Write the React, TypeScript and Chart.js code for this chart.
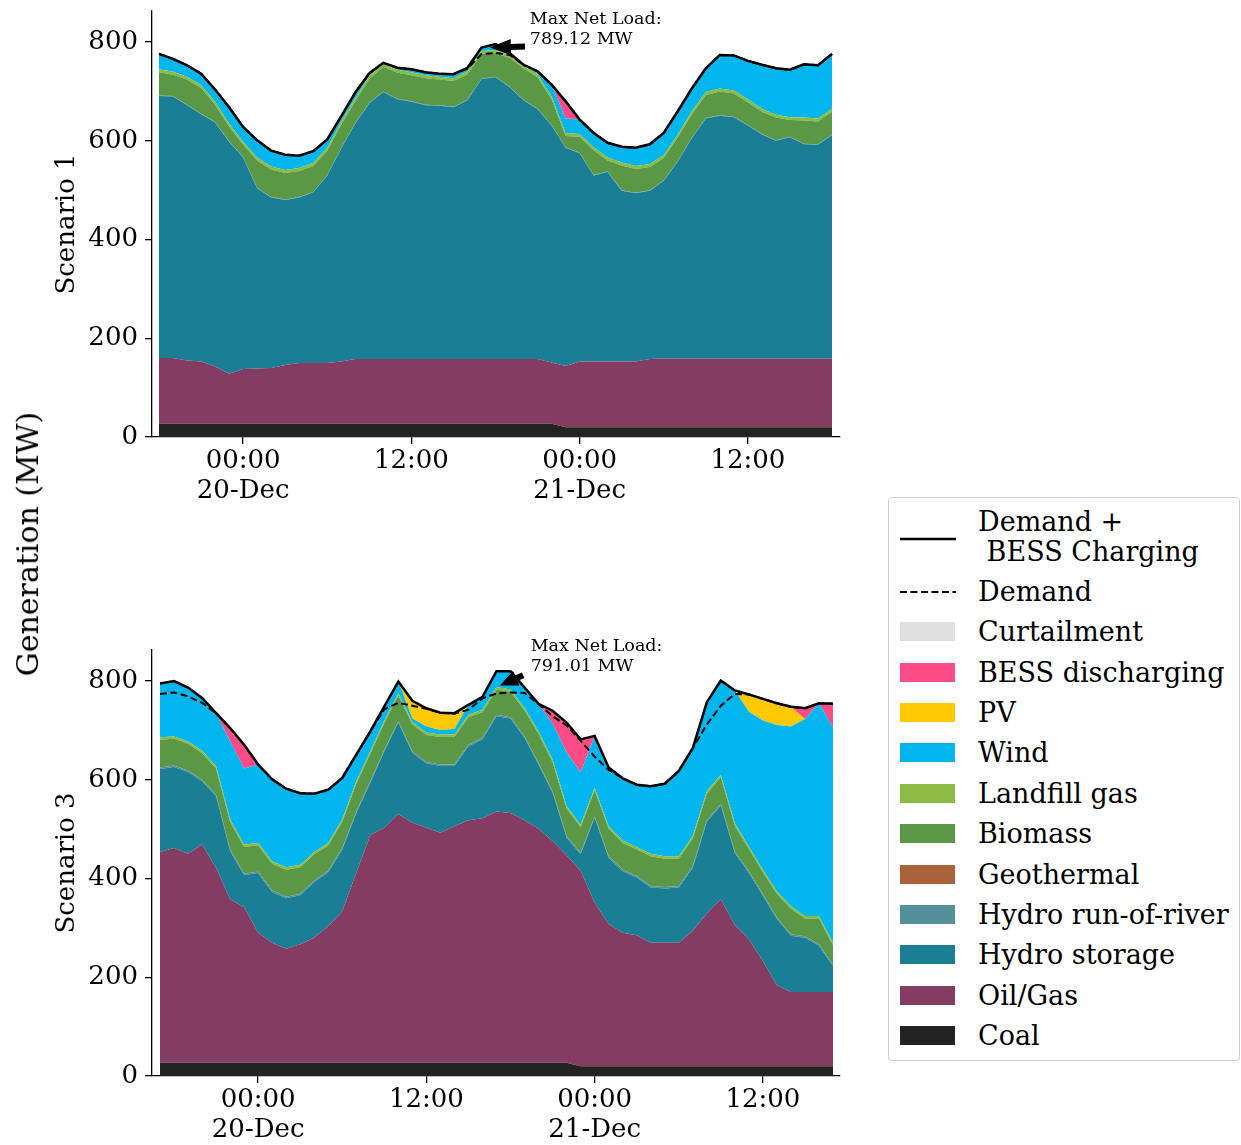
import React, { useEffect, useRef } from 'react';
import { Chart, registerables } from 'chart.js';

Chart.register(...registerables);

const FONT = "'DejaVu Serif'";

// ---------- categories / ticks ----------
// hours relative to 00:00 on 20-Dec
const hoursS1 = Array.from({ length: 49 }, (_, i) => i - 6); // 18:00 19-Dec .. 18:00 21-Dec
const hoursS3 = Array.from({ length: 49 }, (_, i) => i - 7); // 17:00 19-Dec .. 17:00 21-Dec
const tickHours = [0, 12, 24, 36];
const tickLabels: (string | string[])[] = [['00:00', '20-Dec'], '12:00', ['00:00', '21-Dec'], '12:00'];
const yTicks = [0, 200, 400, 600, 800];

// ---------- series (stack order, bottom to top) ----------
const seriesNames = ['Coal', 'Oil/Gas', 'Hydro storage', 'Hydro run-of-river', 'Geothermal', 'Biomass', 'Landfill gas', 'Wind', 'PV', 'BESS discharging', 'Curtailment'];
const seriesColors = ['#232323', '#843C62', '#1A7F94', '#52909A', '#A8633A', '#5B9845', '#8BBB43', '#00B6ED', '#FFC800', '#FF4C87', '#E0E0E0'];

// ---------- Scenario 1 ----------
const coalS1 = [27, 27, 27, 27, 27, 27, 27, 27, 27, 27, 27, 27, 27, 27, 27, 27, 27, 27, 27, 27, 27, 27, 27, 27, 27, 27, 27, 27, 27, 20, 20, 20, 20, 20, 20, 20, 20, 20, 20, 20, 20, 20, 20, 20, 20, 20, 20, 20, 20];
const oilS1 = [133, 133, 128, 126, 116, 101, 111, 112, 113, 119, 123, 123, 123, 126, 131, 131, 131, 131, 131, 131, 131, 131, 131, 131, 131, 131, 131, 131, 124, 124, 133, 133, 133, 133, 133, 138, 139, 139, 139, 139, 139, 139, 139, 139, 139, 139, 139, 139, 139];
const hydroStoS1 = [531, 530, 517, 501, 494, 470, 428, 365, 345, 334, 335, 346, 380, 432, 477, 518, 541, 526, 521, 514, 513, 510, 524, 567, 571, 551, 524, 506, 480, 442, 422, 377, 384, 346, 341, 341, 360, 399, 446, 486, 492, 489, 472, 454, 441, 448, 434, 433, 453];
const rorS1 = [1, 1, 1, 1, 1, 1, 1, 1, 1, 1, 1, 1, 1, 1, 1, 1, 1, 1, 1, 1, 1, 1, 1, 1, 1, 1, 1, 1, 1, 1, 1, 1, 1, 1, 1, 1, 1, 1, 1, 1, 1, 1, 1, 1, 1, 1, 1, 1, 1];
const geoS1 = [0, 0, 0, 0, 0, 0, 0, 0, 0, 0, 0, 0, 0, 0, 0, 0, 0, 0, 0, 0, 0, 0, 0, 0, 0, 0, 0, 0, 0, 0, 0, 0, 0, 0, 0, 0, 0, 0, 0, 0, 0, 0, 0, 0, 0, 0, 0, 0, 0];
const bioS1 = [47, 43, 51, 52, 35, 30, 25, 55, 56, 54, 53, 52, 49, 47, 44, 49, 50, 53, 53, 54, 52, 52, 52, 50, 48, 58, 64, 64, 52, 23, 32, 50, 22, 50, 48, 47, 45, 48, 48, 47, 48, 47, 46, 45, 46, 34, 47, 46, 46];
const landfillS1 = [6, 6, 6, 6, 6, 6, 6, 6, 6, 6, 6, 6, 6, 6, 6, 6, 6, 6, 6, 6, 6, 6, 6, 6, 6, 6, 6, 6, 6, 6, 6, 6, 6, 6, 6, 6, 6, 6, 6, 6, 6, 6, 6, 6, 6, 6, 6, 6, 6];
const windS1 = [31, 26, 23, 23, 25, 33, 30, 35, 32, 31, 25, 24, 17, 11, 12, 5, 2, 4, 6, 6, 6, 8, 7, 7, 12, 4, 1, 6, 24, 29, 29, 29, 30, 32, 37, 40, 45, 47, 46, 48, 68, 71, 78, 89, 94, 96, 108, 108, 111];
const pvS1 = [0, 0, 0, 0, 0, 0, 0, 0, 0, 0, 0, 0, 0, 0, 0, 0, 0, 0, 0, 0, 0, 0, 0, 0, 0, 0, 0, 0, 0, 0, 0, 0, 0, 0, 0, 0, 0, 0, 0, 0, 0, 0, 0, 0, 0, 0, 0, 0, 0];
const bessS1 = [0, 0, 0, 0, 0, 0, 0, 0, 0, 0, 0, 0, 0, 0, 0, 0, 0, 0, 0, 0, 0, 0, 0, 0, 0, 0, 0, 0, 0, 35, 0, 0, 0, 0, 0, 0, 0, 0, 0, 0, 0, 0, 0, 0, 0, 0, 0, 0, 0];
const curtS1 = [0, 0, 0, 0, 0, 0, 0, 0, 0, 0, 0, 0, 0, 0, 0, 0, 0, 0, 0, 0, 0, 0, 0, 0, 0, 0, 0, 0, 0, 0, 0, 0, 0, 0, 0, 0, 0, 0, 0, 0, 0, 0, 0, 0, 0, 0, 0, 0, 0];
const totalS1 = [776, 766, 753, 736, 704, 668, 628, 601, 580, 572, 570, 579, 603, 650, 698, 737, 758, 748, 745, 739, 736, 735, 748, 789, 796, 778, 754, 741, 714, 680, 643, 616, 596, 588, 586, 593, 616, 660, 706, 747, 774, 773, 762, 754, 747, 744, 755, 753, 776];
const demandS1 = [776, 766, 753, 736, 704, 668, 628, 601, 580, 572, 570, 579, 603, 650, 698, 737, 758, 748, 745, 739, 736, 735, 746, 776, 778, 774, 754, 741, 714, 680, 643, 616, 596, 588, 586, 593, 616, 660, 706, 747, 774, 773, 762, 754, 747, 744, 755, 753, 776];

// ---------- Scenario 3 ----------
const coalS3 = [27, 27, 27, 27, 27, 27, 27, 27, 27, 27, 27, 27, 27, 27, 27, 27, 27, 27, 27, 27, 27, 27, 27, 27, 27, 27, 27, 27, 27, 27, 20, 20, 20, 20, 20, 20, 20, 20, 20, 20, 20, 20, 20, 20, 20, 20, 20, 20, 20];
const oilS3 = [427, 435, 423, 442, 395, 331, 315, 263, 243, 231, 240, 253, 277, 307, 385, 461, 476, 504, 486, 476, 466, 479, 491, 495, 509, 506, 491, 474, 449, 420, 396, 331, 288, 270, 265, 250, 250, 250, 274, 309, 338, 286, 257, 213, 164, 150, 150, 150, 150];
const hydroStoS3 = [168, 164, 166, 128, 145, 98, 65, 121, 103, 102, 99, 113, 109, 125, 121, 106, 155, 185, 142, 130, 135, 122, 150, 160, 193, 191, 167, 130, 98, 36, 33, 172, 134, 125, 117, 112, 110, 112, 128, 186, 190, 146, 135, 132, 134, 114, 110, 94, 53];
const rorS3 = [3, 3, 3, 3, 3, 3, 3, 3, 3, 3, 3, 3, 3, 3, 3, 3, 3, 3, 3, 3, 3, 3, 3, 3, 3, 3, 3, 3, 3, 3, 3, 3, 3, 3, 3, 3, 3, 3, 3, 3, 3, 3, 3, 3, 3, 3, 3, 3, 3];
const geoS3 = [0, 0, 0, 0, 0, 0, 0, 0, 0, 0, 0, 0, 0, 0, 0, 0, 0, 0, 0, 0, 0, 0, 0, 0, 0, 0, 0, 0, 0, 0, 0, 0, 0, 0, 0, 0, 0, 0, 0, 0, 0, 0, 0, 0, 0, 0, 0, 0, 0];
const bioS3 = [56, 54, 54, 54, 53, 56, 54, 53, 54, 55, 54, 53, 51, 53, 56, 56, 54, 52, 54, 55, 56, 56, 56, 52, 51, 51, 53, 59, 59, 56, 52, 53, 56, 54, 54, 60, 57, 55, 56, 54, 54, 52, 45, 45, 48, 52, 36, 52, 39];
const landfillS3 = [5, 5, 5, 5, 5, 5, 5, 5, 5, 5, 5, 5, 5, 5, 5, 5, 5, 5, 5, 5, 5, 5, 5, 5, 5, 5, 5, 5, 5, 5, 5, 5, 5, 5, 5, 5, 5, 5, 5, 5, 5, 5, 5, 5, 5, 5, 5, 5, 5];
const windS3 = [109, 112, 109, 107, 107, 158, 154, 159, 166, 159, 145, 118, 108, 84, 54, 40, 29, 23, 7, 12, 9, 11, 20, 26, 32, 37, 41, 56, 73, 109, 106, 105, 119, 126, 126, 137, 147, 173, 178, 180, 191, 269, 273, 302, 337, 364, 399, 431, 436];
const pvS3 = [0, 0, 0, 0, 0, 0, 0, 0, 0, 0, 0, 0, 0, 0, 0, 0, 0, 0, 36, 37, 35, 32, 0, 0, 0, 0, 0, 0, 0, 0, 0, 0, 0, 0, 0, 0, 0, 0, 0, 0, 0, 0, 35, 44, 44, 40, 0, 0, 0];
const bessS3 = [0, 0, 0, 0, 0, 27, 48, 0, 0, 0, 0, 0, 0, 0, 0, 0, 0, 0, 0, 0, 0, 0, 0, 0, 0, 0, 0, 0, 26, 60, 67, 0, 0, 0, 0, 0, 0, 0, 0, 0, 0, 0, 0, 0, 0, 0, 22, 0, 48];
const curtS3 = [0, 0, 0, 0, 0, 0, 0, 0, 0, 0, 0, 0, 0, 0, 0, 0, 0, 0, 0, 0, 0, 0, 0, 0, 0, 0, 0, 0, 0, 0, 0, 0, 0, 0, 0, 0, 0, 0, 0, 0, 0, 0, 0, 0, 0, 0, 0, 0, 0];
const totalS3 = [795, 800, 787, 766, 735, 705, 671, 631, 601, 582, 573, 572, 580, 604, 651, 698, 749, 799, 760, 745, 736, 735, 752, 768, 820, 820, 787, 754, 740, 716, 682, 689, 625, 603, 590, 587, 592, 618, 664, 757, 801, 781, 773, 764, 755, 748, 745, 755, 754];
const demandS3 = [774, 777, 769, 756, 735, 705, 671, 631, 601, 582, 573, 572, 580, 604, 651, 698, 743, 756, 750, 744, 736, 734, 742, 765, 775, 777, 776, 753, 729, 710, 679, 647, 620, 603, 590, 587, 592, 618, 664, 712, 750, 774, 773, 764, 755, 748, 745, 755, 754];

// ---------- annotations ----------
const maxNetLoadS1 = 789.12;
const maxNetLoadS3 = 791.01;

type Scenario = {
  title: string;
  hours: number[];
  values: number[][];
  total: number[];
  demand: number[];
  xMin: number;
  xMax: number;
  padTop: number;
  xAxisHeight: number;
  canvasTop: number;
  canvasHeight: number;
  note: { tip: [number, number]; tail: [number, number]; text: [number, number]; lines: string[] };
};

const scenarios: Scenario[] = [
  {
    title: 'Scenario 1',
    hours: hoursS1,
    values: [coalS1, oilS1, hydroStoS1, rorS1, geoS1, bioS1, landfillS1, windS1, pvS1, bessS1, curtS1],
    total: totalS1,
    demand: demandS1,
    xMin: -6.5,
    xMax: 42.57,
    padTop: 11,
    xAxisHeight: 83,
    canvasTop: 0,
    canvasHeight: 520,
    note: { tip: [17.6, maxNetLoadS1], tail: [20.1, 791], text: [20.45, 796.6], lines: ['Max Net Load:', maxNetLoadS1.toFixed(2) + ' MW'] },
  },
  {
    title: 'Scenario 3',
    hours: hoursS3,
    values: [coalS3, oilS3, hydroStoS3, rorS3, geoS3, bioS3, landfillS3, windS3, pvS3, bessS3, curtS3],
    total: totalS3,
    demand: demandS3,
    xMin: -7.57,
    xMax: 41.5,
    padTop: 30,
    xAxisHeight: 69,
    canvasTop: 620,
    canvasHeight: 525,
    note: { tip: [17.25, maxNetLoadS3], tail: [18.9, 812], text: [19.44, 820.2], lines: ['Max Net Load:', maxNetLoadS3.toFixed(2) + ' MW'] },
  },
];

const annotationPlugin = {
  id: 'maxNetLoad',
  afterDraw(chart: any, _args: any, opts: any) {
    if (!opts || !opts.lines) return;
    const xs = chart.scales.x;
    const ys = chart.scales.y;
    const ctx = chart.ctx;
    const tipX = xs.getPixelForValue(opts.tip[0]);
    const tipY = ys.getPixelForValue(opts.tip[1]);
    const tailX = xs.getPixelForValue(opts.tail[0]);
    const tailY = ys.getPixelForValue(opts.tail[1]);
    const dx = tipX - tailX;
    const dy = tipY - tailY;
    const len = Math.hypot(dx, dy);
    const ux = dx / len;
    const uy = dy / len;
    const px = -uy;
    const py = ux;
    const headLen = Math.min(21, len * 0.7);
    const headHalf = 8;
    const shaftHalf = 3;
    const bx = tipX - ux * headLen;
    const by = tipY - uy * headLen;
    ctx.save();
    ctx.beginPath();
    ctx.moveTo(tailX + px * shaftHalf, tailY + py * shaftHalf);
    ctx.lineTo(bx + px * shaftHalf, by + py * shaftHalf);
    ctx.lineTo(bx + px * headHalf, by + py * headHalf);
    ctx.lineTo(tipX, tipY);
    ctx.lineTo(bx - px * headHalf, by - py * headHalf);
    ctx.lineTo(bx - px * shaftHalf, by - py * shaftHalf);
    ctx.lineTo(tailX - px * shaftHalf, tailY - py * shaftHalf);
    ctx.closePath();
    ctx.fillStyle = '#000';
    ctx.fill();
    ctx.font = `17.5px ${FONT}`;
    ctx.textAlign = 'left';
    ctx.textBaseline = 'alphabetic';
    const tx = xs.getPixelForValue(opts.text[0]);
    const ty = ys.getPixelForValue(opts.text[1]);
    const n = opts.lines.length;
    opts.lines.forEach((l: string, i: number) => ctx.fillText(l, tx, ty - (n - 1 - i) * 20));
    ctx.restore();
  },
};

function makeConfig(sc: Scenario): any {
  const lineDatasets = [
    {
      label: 'Demand + BESS Charging',
      data: sc.hours.map((h, i) => ({ x: h, y: sc.total[i] })),
      borderColor: '#000',
      borderWidth: 2.5,
      pointRadius: 0,
      fill: false,
      tension: 0,
      yAxisID: 'yl',
    },
    {
      label: 'Demand',
      data: sc.hours.map((h, i) => ({ x: h, y: sc.demand[i] })),
      borderColor: '#000',
      borderWidth: 2,
      borderDash: [7, 3.5],
      pointRadius: 0,
      fill: false,
      tension: 0,
      yAxisID: 'yl',
    },
  ];
  const areaDatasets = seriesNames.map((name, k) => ({
    label: name,
    data: sc.hours.map((h, i) => ({ x: h, y: sc.values[k][i] })),
    backgroundColor: seriesColors[k],
    borderColor: seriesColors[k],
    borderWidth: 0,
    pointRadius: 0,
    fill: k === 0 ? 'origin' : '-1',
    tension: 0,
    yAxisID: 'y',
  }));
  const axisGrid = { display: true, drawOnChartArea: false, drawTicks: true, tickLength: 7, color: '#000', lineWidth: 1.3 };
  const axisBorder = { display: true, color: '#000', width: 1.3 };
  return {
    type: 'line',
    data: { datasets: [...lineDatasets, ...areaDatasets] },
    plugins: [annotationPlugin],
    options: {
      animation: false,
      responsive: false,
      devicePixelRatio: 1,
      layout: { padding: { left: 0, right: 30, top: sc.padTop, bottom: 0 } },
      plugins: {
        legend: { display: false },
        tooltip: { enabled: false },
        maxNetLoad: sc.note,
      },
      scales: {
        x: {
          type: 'linear',
          min: sc.xMin,
          max: sc.xMax,
          afterBuildTicks: (s: any) => {
            s.ticks = tickHours.map((v) => ({ value: v }));
          },
          afterFit: (s: any) => {
            s.height = sc.xAxisHeight;
            s.paddingLeft = 0;
            s.paddingRight = 0;
          },
          ticks: {
            autoSkip: false,
            maxRotation: 0,
            minRotation: 0,
            padding: 2,
            color: '#000',
            font: { family: FONT, size: 26, lineHeight: 1.17 },
            callback: (v: number) => {
              const idx = tickHours.indexOf(v);
              return idx >= 0 ? tickLabels[idx] : '';
            },
          },
          grid: axisGrid,
          border: axisBorder,
        },
        y: {
          stacked: true,
          min: 0,
          max: 863,
          afterBuildTicks: (s: any) => {
            s.ticks = yTicks.map((v) => ({ value: v }));
          },
          afterFit: (s: any) => {
            s.width = 152;
            s.paddingTop = 0;
            s.paddingBottom = 0;
          },
          title: {
            display: true,
            text: sc.title,
            color: '#000',
            font: { family: FONT, size: 26 },
            padding: { top: 52, bottom: 0 },
          },
          ticks: { padding: 7, color: '#000', font: { family: FONT, size: 26 } },
          grid: axisGrid,
          border: axisBorder,
        },
        yl: { display: false, min: 0, max: 863 },
      },
    },
  };
}

function ScenarioChart({ sc }: { sc: Scenario }) {
  const ref = useRef<HTMLCanvasElement | null>(null);
  useEffect(() => {
    if (!ref.current) return;
    const chart = new Chart(ref.current, makeConfig(sc));
    return () => chart.destroy();
  }, [sc]);
  return (
    <canvas
      ref={ref}
      width={870}
      height={sc.canvasHeight}
      style={{ position: 'absolute', left: 0, top: sc.canvasTop, width: 870, height: sc.canvasHeight }}
    />
  );
}

function Legend() {
  const rowStart = 591;
  const rowStep = 40.36;
  const textStyle: React.CSSProperties = {
    position: 'absolute',
    left: 89,
    fontFamily: FONT,
    fontSize: 27,
    lineHeight: '30px',
    color: '#000',
    whiteSpace: 'pre',
  };
  const top0 = 497;
  const patchRows = seriesNames
    .map((name, k) => ({ name, color: seriesColors[k] }))
    .reverse();
  return (
    <div
      style={{
        position: 'absolute',
        left: 888,
        top: top0,
        width: 352,
        height: 564,
        border: '1px solid #d0d0d0',
        borderRadius: 4,
        boxSizing: 'border-box',
        background: '#fff',
      }}
    >
      {/* Demand + BESS Charging */}
      <svg style={{ position: 'absolute', left: 11, top: 538 - top0 - 5 }} width={56} height={10}>
        <line x1={0} y1={5} x2={56} y2={5} stroke="#000" strokeWidth={2.5} />
      </svg>
      <div style={{ ...textStyle, top: 521 - top0 - 15 }}>{'Demand +'}</div>
      <div style={{ ...textStyle, top: 551 - top0 - 15 }}>{' BESS Charging'}</div>
      {/* Demand */}
      <svg style={{ position: 'absolute', left: 11, top: rowStart - top0 - 5 }} width={56} height={10}>
        <line x1={0} y1={5} x2={56} y2={5} stroke="#000" strokeWidth={2} strokeDasharray="7 3.5" />
      </svg>
      <div style={{ ...textStyle, top: rowStart - top0 - 15 }}>{'Demand'}</div>
      {patchRows.map((r, j) => {
        const cy = rowStart + (j + 1) * rowStep;
        return (
          <React.Fragment key={r.name}>
            <div
              style={{
                position: 'absolute',
                left: 11,
                top: cy - top0 - 10,
                width: 55,
                height: 19,
                background: r.color,
              }}
            />
            <div style={{ ...textStyle, top: cy - top0 - 15 }}>{r.name}</div>
          </React.Fragment>
        );
      })}
    </div>
  );
}

export default function App() {
  return (
    <div style={{ position: 'absolute', left: 0, top: 0, width: 1241, height: 1145, background: '#fff', overflow: 'hidden' }}>
      {scenarios.map((sc) => (
        <ScenarioChart key={sc.title} sc={sc} />
      ))}
      <div
        style={{
          position: 'absolute',
          left: 28,
          top: 544,
          transform: 'translate(-50%, -50%) rotate(-90deg)',
          fontFamily: FONT,
          fontSize: 30,
          whiteSpace: 'nowrap',
          color: '#000',
          lineHeight: '34px',
        }}
      >
        Generation (MW)
      </div>
      <Legend />
    </div>
  );
}
